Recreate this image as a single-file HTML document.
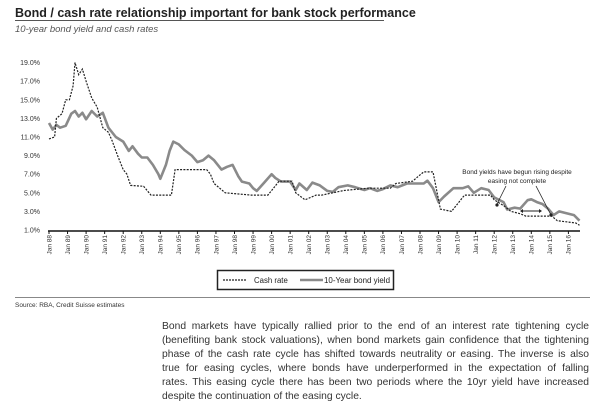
<!DOCTYPE html>
<html><head><meta charset="utf-8"><style>
body{margin:0;background:#fff;width:600px;height:414px;overflow:hidden;font-family:"Liberation Sans",sans-serif;}
.pl{text-align:justify;text-align-last:justify;white-space:nowrap;height:14px;}
</style></head><body>
<svg width="600" height="414" viewBox="0 0 600 414" style="position:absolute;left:0;top:0">
<text x="15" y="17" font-size="12.5" font-weight="bold" fill="#222">Bond / cash rate relationship important for bank stock performance</text>
<line x1="15" y1="20.5" x2="384" y2="20.5" stroke="#555" stroke-width="1"/>
<text x="15" y="32" font-size="9.5" font-style="italic" fill="#555">10-year bond yield and cash rates</text>
<g id="yaxis"></g>
<g id="xaxis"></g>
<g id="plot"></g>
<g fill="#222">
<text x="517" y="174" font-size="6.5" text-anchor="middle">Bond yields have begun rising despite</text>
<text x="517" y="183" font-size="6.5" text-anchor="middle">easing not complete</text>
<line x1="506" y1="186" x2="497" y2="204" stroke="#222" stroke-width="0.8"/>
<line x1="536" y1="186" x2="551" y2="215" stroke="#222" stroke-width="0.8"/>
<circle cx="497" cy="205" r="1.6"/>
<circle cx="551" cy="215" r="1.6"/>
<line x1="522" y1="211" x2="540" y2="211" stroke="#222" stroke-width="0.9"/>
<path d="M520 211 l3 -2 v4z M542 211 l-3 -2 v4z"/>
</g>
<g>
<rect x="217.5" y="270.5" width="176" height="19" fill="#fff" stroke="#222" stroke-width="1.5"/>
<line x1="223" y1="280" x2="246" y2="280" stroke="#222" stroke-width="1.2" stroke-dasharray="2,1"/>
<text x="254" y="283" font-size="7.8" fill="#222">Cash rate</text>
<line x1="300" y1="280" x2="323" y2="280" stroke="#8a8a8a" stroke-width="2.5"/>
<text x="324" y="283" font-size="7.8" fill="#222" textLength="66" lengthAdjust="spacingAndGlyphs">10-Year bond yield</text>
</g>
<line x1="15" y1="297.5" x2="590" y2="297.5" stroke="#888" stroke-width="1"/>
<text x="15" y="307" font-size="6.5" fill="#333">Source: RBA, Credit Suisse estimates</text>
</svg>
<div style="position:absolute;left:162px;top:320px;width:427px;font-size:10.3px;line-height:14px;color:#333;">
<div class="pl">Bond markets have typically rallied prior to the end of an interest rate tightening cycle</div>
<div class="pl">(benefiting bank stock valuations), when bond markets gain confidence that the tightening</div>
<div class="pl">phase of the cash rate cycle has shifted towards neutrality or easing. The inverse is also</div>
<div class="pl">true for easing cycles, where bonds have underperformed in the expectation of falling</div>
<div class="pl">rates. This easing cycle there has been two periods where the 10yr yield have increased</div>
<div style="height:14px;white-space:nowrap">despite the continuation of the easing cycle.</div>
</div>
<script>
const yTicks=[1,3,5,7,9,11,13,15,17,19];
const xYears=[88,89,90,91,92,93,94,95,96,97,98,99,0,1,2,3,4,5,6,7,8,9,10,11,12,13,14,15,16];
const cashT=[1988.0,1988.3,1988.4,1988.7,1988.9,1989.1,1989.3,1989.4,1989.6,1989.8,1990.0,1990.3,1990.6,1990.9,1991.2,1991.4,1991.7,1992.0,1992.2,1992.4,1993.1,1993.5,1994.6,1994.8,1996.5,1996.7,1996.9,1997.2,1997.5,1998.9,1999.8,2000.1,2000.4,2001.1,2001.3,2001.8,2002.4,2002.7,2003.9,2005.2,2006.4,2006.7,2007.6,2007.9,2008.2,2008.7,2008.9,2009.1,2009.7,2009.9,2010.2,2010.4,2011.8,2012.0,2012.4,2012.6,2012.9,2013.4,2013.7,2015.1,2015.4,2016.4,2016.6];
const cashV=[10.8,11.0,13.0,13.5,15.0,15.0,16.5,19.0,17.7,18.3,17.0,15.2,14.2,12.0,11.5,10.6,9.0,7.5,7.0,5.8,5.7,4.75,4.75,7.5,7.5,7.0,6.0,5.5,5.0,4.75,4.75,5.5,6.25,6.25,5.0,4.25,4.75,4.75,5.25,5.5,5.5,6.0,6.25,6.75,7.25,7.25,5.25,3.25,3.0,3.5,4.25,4.75,4.75,4.25,3.75,3.5,3.0,2.75,2.5,2.5,2.0,1.75,1.5];
const bondT=[1988.0,1988.2,1988.4,1988.6,1988.9,1989.2,1989.4,1989.6,1989.8,1990.0,1990.3,1990.6,1990.9,1991.2,1991.6,1992.0,1992.3,1992.5,1992.8,1993.0,1993.3,1993.6,1993.9,1994.0,1994.3,1994.5,1994.7,1995.0,1995.3,1995.7,1996.0,1996.3,1996.6,1996.9,1997.3,1997.6,1997.9,1998.2,1998.4,1998.8,1999.0,1999.2,1999.6,2000.0,2000.2,2000.5,2001.0,2001.3,2001.5,2001.9,2002.2,2002.6,2003.0,2003.3,2003.6,2004.1,2004.5,2005.0,2005.3,2005.7,2006.0,2006.4,2006.8,2007.3,2007.7,2008.2,2008.4,2008.7,2009.0,2009.3,2009.8,2010.3,2010.6,2010.9,2011.3,2011.7,2012.0,2012.5,2012.7,2013.1,2013.4,2013.8,2014.0,2014.3,2014.6,2014.9,2015.2,2015.5,2015.9,2016.3,2016.6];
const bondV=[12.5,11.8,12.3,12.0,12.2,13.5,13.8,13.2,13.6,12.9,13.8,13.2,13.6,12.0,11.0,10.5,9.5,10.0,9.2,8.8,8.8,8.0,7.0,6.5,8.0,9.5,10.5,10.2,9.6,9.0,8.3,8.5,9.0,8.5,7.5,7.8,8.0,6.8,6.2,6.0,5.5,5.2,6.1,7.0,6.6,6.2,6.2,5.3,6.0,5.3,6.1,5.8,5.2,5.1,5.6,5.8,5.6,5.3,5.5,5.2,5.4,5.8,5.6,6.0,6.0,6.0,6.3,5.5,4.0,4.6,5.5,5.5,5.7,5.0,5.5,5.3,4.5,4.0,3.2,3.4,3.3,4.2,4.3,4.0,3.8,3.3,2.6,3.0,2.8,2.6,2.0];
const NS='http://www.w3.org/2000/svg';
const X=t=>49+(t-1988)*18.55;
const Y=v=>230-(v-1)*9.3;
function mk(tag,attrs,parent){const e=document.createElementNS(NS,tag);for(const k in attrs)e.setAttribute(k,attrs[k]);parent.appendChild(e);return e;}
const ya=document.getElementById('yaxis'),xa=document.getElementById('xaxis'),pl=document.getElementById('plot');
yTicks.forEach(v=>{
  const t=mk('text',{x:40,y:Y(v)+2.5,'font-size':7,'text-anchor':'end',fill:'#333'},ya);
  
  
  t.textContent=v.toFixed(1)+'%';
});
const ax=mk('line',{x1:48,y1:231,x2:580,y2:231,stroke:'#111','stroke-width':1.6},xa);


xYears.forEach((yy,i)=>{
  const x=X(1988+i);
  const tk=mk('line',{x1:x,y1:231,x2:x,y2:234,stroke:'#111','stroke-width':1},xa);
  
  
  const t=mk('text',{x:0,y:0,'font-size':6.5,'text-anchor':'end',fill:'#333',transform:`translate(${x+2.3},235) rotate(-90)`},xa);
  
  
  t.textContent='Jan '+String(yy).padStart(2,'0');
});
function pts(T,V){let d='';for(let i=0;i<T.length;i++){d+=` ${X(T[i]).toFixed(1)},${Y(V[i]).toFixed(1)}`;}return d.trim();}
const bl=mk('polyline',{points:pts(bondT,bondV),fill:'none',stroke:'#8a8a8a','stroke-width':2.6,'stroke-linejoin':'round'},pl);


const cl=mk('polyline',{points:pts(cashT,cashV),fill:'none',stroke:'#222','stroke-width':1.2,'stroke-dasharray':'2,1.3'},pl);


</script>
</body></html>
